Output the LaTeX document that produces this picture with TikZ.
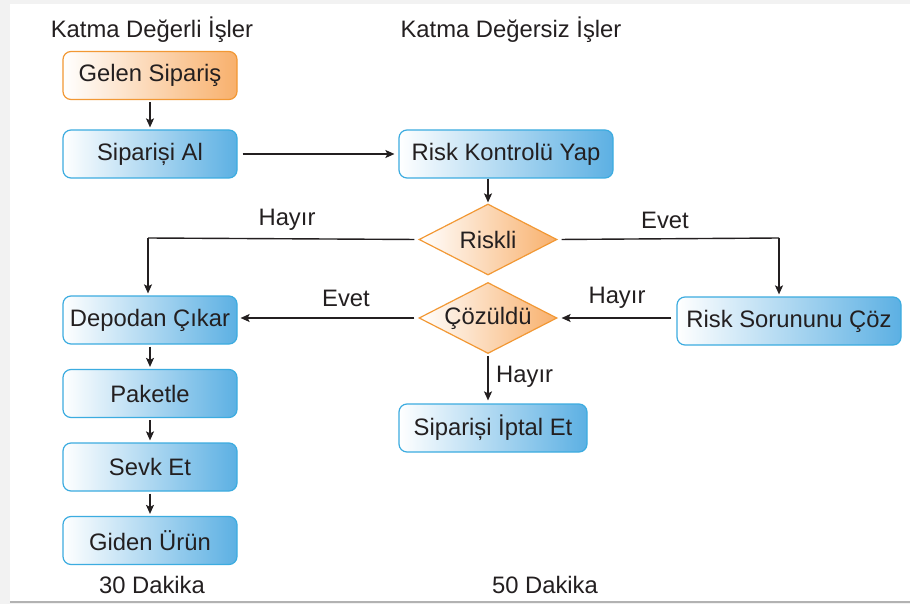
\documentclass[tikz,border=0pt]{standalone}
\usepackage{fontspec}
\setmainfont{Liberation Sans}
\usetikzlibrary{shapes.geometric,arrows.meta}
\definecolor{bluefill}{RGB}{92,176,227}
\definecolor{blueline}{RGB}{60,172,224}
\definecolor{orfill}{RGB}{248,176,108}
\definecolor{orline}{RGB}{242,152,52}
\definecolor{ink}{RGB}{35,31,32}
\tikzset{
  txt/.style={font=\fontsize{23.8}{27}\selectfont, text=ink, inner sep=0pt},
  bluebox/.style={txt, draw=blueline, line width=1.2pt, rounded corners=8pt,
    minimum height=48pt, left color=white, right color=bluefill},
  orbox/.style={bluebox, draw=orline, left color=white, right color=orfill},
  decision/.style={txt, diamond, aspect=1.95, draw=orline, line width=1.2pt,
    left color=white, right color=orfill, minimum width=138pt, minimum height=71pt},
  conn/.style={draw=ink, line width=1.4pt, -{Stealth[length=9pt,width=8pt,inset=2pt]}},
  plain/.style={draw=ink, line width=1.4pt},
}
\begin{document}
\begin{tikzpicture}[x=1pt,y=-1pt]
\fill[black!5] (0,0) rectangle (910,604);
\fill[white] (10,4) rectangle (910,601);
\fill[black!30] (10,601) rectangle (910,603);
\useasboundingbox (0,0) rectangle (910,604);

\node[txt] (h1) at (152,30) {Katma Değerli İşler};
\node[txt] (h2) at (511,30) {Katma Değersiz İşler};

\node[orbox, minimum width=174pt] (gelen) at (150,75.5) {Gelen Sipariş};
\node[bluebox, minimum width=174pt] (al) at (150,154) {Sipariși Al};
\node[bluebox, minimum width=214pt] (risk) at (506,154) {Risk Kontrolü Yap};
\node[decision] (riskli) at (488,239.5) {Riskli};
\node[decision] (coz) at (488,318) {Çözüldü};
\node[bluebox, minimum width=174pt] (depo) at (150,320) {Depodan Çıkar};
\node[bluebox, minimum width=224pt] (sorun) at (789,321) {Risk Sorununu Çöz};
\node[bluebox, minimum width=188pt] (iptal) at (493,428) {Sipariși İptal Et};
\node[bluebox, minimum width=174pt] (paket) at (150,393.5) {Paketle};
\node[bluebox, minimum width=174pt] (sevk) at (150,467) {Sevk Et};
\node[bluebox, minimum width=174pt] (giden) at (150,540.5) {Giden Ürün};

\node[txt] (t30) at (152,585) {30 Dakika};
\node[txt] (t50) at (545,585) {50 Dakika};

\coordinate (kL) at (148,238);
\coordinate (kR) at (779,238);

\draw[conn, shorten <=2pt, shorten >=2pt] (gelen) -- (al);
\draw[conn, shorten <=5pt, shorten >=4pt] (al) -- (risk);
\draw[conn, shorten >=1pt] (risk.south -| riskli.north) -- (riskli.north);
\draw[plain, shorten <=4pt] (riskli.west) -- (kL);
\draw[conn, shorten >=2pt] (kL) -- (kL |- depo.north);
\draw[plain, shorten <=4pt] (riskli.east) -- (kR);
\draw[conn, shorten >=2pt] (kR) -- (kR |- sorun.north);
\draw[conn, shorten <=5pt, shorten >=4pt] (sorun.west |- coz.east) -- (coz.east);
\draw[conn, shorten <=4pt, shorten >=3pt] (coz.west) -- (depo.east |- coz.west);
\draw[conn, shorten <=2pt, shorten >=3pt] (coz.south) -- (coz.south |- iptal.north);
\draw[conn, shorten <=2pt, shorten >=2pt] (depo) -- (paket);
\draw[conn, shorten <=2pt, shorten >=2pt] (paket) -- (sevk);
\draw[conn, shorten <=2pt, shorten >=2pt] (sevk) -- (giden);

\node[txt] (l1) at (287,220) {Hayır};
\node[txt] (l2) at (665,220) {Evet};
\node[txt] (l3) at (346,298) {Evet};
\node[txt] (l4) at (617,298) {Hayır};
\node[txt, anchor=west] (l5) at (496,377) {Hayır};
\end{tikzpicture}
\end{document}
